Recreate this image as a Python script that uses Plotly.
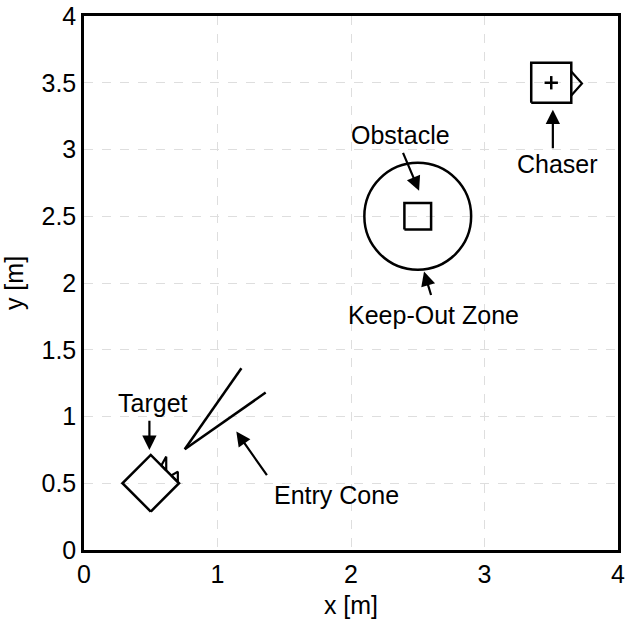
import numpy as np
import plotly.graph_objects as go

# --- scene values -------------------------------------------------------
x_ticks = [0, 1, 2, 3, 4]
y_ticks = [0, 0.5, 1, 1.5, 2, 2.5, 3, 3.5, 4]
y_tick_text = ["0", "0.5", "1", "1.5", "2", "2.5", "3", "3.5", "4"]

target_center = [0.5, 0.5]
target_side = 0.3
target_angle_deg = 45.0
# docking-port teeth on the target, body frame (x along the port face normal)
port_teeth = [
    [[0.15, 0.038], [0.223, 0.059], [0.15, -0.014]],
    [[0.15, -0.068], [0.205, -0.082], [0.15, -0.137]],
]

cone_offset = 0.36          # distance from target centre to cone apex
cone_length = 0.74
cone_half_angle_deg = 10.0

obstacle_center = [2.5, 2.5]
obstacle_side = 0.2
keep_out_radius = 0.4

chaser_center = [3.5, 3.5]
chaser_side = 0.3
chaser_cross_half = 0.05
chaser_port = [[0.15, 0.085], [0.23, -0.005], [0.15, -0.095]]

labels = ["Target", "Entry Cone", "Obstacle", "Keep-Out Zone", "Chaser"]
label_xy = [[0.52, 1.10], [1.89, 0.41], [2.37, 3.11], [2.62, 1.76], [3.55, 2.89]]
# arrow tail -> head
arrow_tail = [[0.49, 0.98], [1.378, 0.549], [2.385, 2.986], [2.603, 1.899], [3.512, 2.999]]
arrow_head = [[0.49, 0.75], [1.141, 0.887], [2.51, 2.691], [2.547, 2.086], [3.512, 3.298]]

BLACK = "#000000"
LW = 2.5
FONT = "Liberation Sans, Arial, Helvetica, sans-serif"
FS = 25


def rot(pts, ang_deg):
    a = np.radians(ang_deg)
    R = np.array([[np.cos(a), -np.sin(a)], [np.sin(a), np.cos(a)]])
    return (R @ np.asarray(pts, float).T).T


def square(side):
    h = side / 2
    return [[-h, -h], [h, -h], [h, h], [-h, h], [-h, -h]]


def closed_trace(pts, center, ang=0.0, width=LW):
    p = rot(pts, ang) + np.asarray(center)
    return go.Scatter(x=p[:, 0], y=p[:, 1], mode="lines",
                      line=dict(color=BLACK, width=width),
                      hoverinfo="skip", showlegend=False)


fig = go.Figure()

# target body and port teeth
fig.add_trace(closed_trace(square(target_side), target_center, target_angle_deg))
for tooth in port_teeth:
    fig.add_trace(closed_trace(tooth + [tooth[0]], target_center, target_angle_deg, 2.2))

# entry cone
ax_dir = np.radians(target_angle_deg)
apex = np.asarray(target_center) + cone_offset * np.array([np.cos(ax_dir), np.sin(ax_dir)])
cx, cy = [], []
for s in (+1, -1):
    a = ax_dir + s * np.radians(cone_half_angle_deg)
    end = apex + cone_length * np.array([np.cos(a), np.sin(a)])
    cx += [apex[0], end[0], None]
    cy += [apex[1], end[1], None]
fig.add_trace(go.Scatter(x=cx, y=cy, mode="lines", line=dict(color=BLACK, width=LW),
                         hoverinfo="skip", showlegend=False))

# obstacle and keep-out zone
fig.add_trace(closed_trace(square(obstacle_side), obstacle_center))
fig.add_shape(type="circle", xref="x", yref="y",
              x0=obstacle_center[0] - keep_out_radius, x1=obstacle_center[0] + keep_out_radius,
              y0=obstacle_center[1] - keep_out_radius, y1=obstacle_center[1] + keep_out_radius,
              line=dict(color=BLACK, width=LW))

# chaser
fig.add_trace(closed_trace(square(chaser_side), chaser_center))
fig.add_trace(closed_trace(chaser_port, chaser_center, 0.0, 2.2))
c = chaser_center
h = chaser_cross_half
fig.add_trace(go.Scatter(x=[c[0] - h, c[0] + h, None, c[0], c[0]],
                         y=[c[1], c[1], None, c[1] - h, c[1] + h],
                         mode="lines", line=dict(color=BLACK, width=LW),
                         hoverinfo="skip", showlegend=False))

# labels and arrows
for txt, (lx, ly) in zip(labels, label_xy):
    fig.add_annotation(x=lx, y=ly, xref="x", yref="y", text=txt, showarrow=False,
                       font=dict(family=FONT, size=FS, color=BLACK))
for (tx, ty), (hx, hy) in zip(arrow_tail, arrow_head):
    fig.add_annotation(x=hx, y=hy, ax=tx, ay=ty, xref="x", yref="y",
                       axref="x", ayref="y", text="", showarrow=True,
                       arrowhead=2, arrowsize=1.3, arrowwidth=2.2,
                       arrowcolor=BLACK, standoff=0, startstandoff=0)

axis_common = dict(range=[0, 4], showline=True, mirror=True, linecolor=BLACK,
                   linewidth=LW, ticks="", zeroline=False, showgrid=True,
                   gridcolor="#dedede", gridwidth=1, griddash="dash",
                   automargin=False, fixedrange=True,
                   tickfont=dict(family=FONT, size=FS, color=BLACK),
                   title_font=dict(family=FONT, size=FS, color=BLACK))

fig.update_xaxes(**axis_common, tickvals=x_ticks, ticktext=[str(v) for v in x_ticks],
                 title_text="x [m]", title_standoff=10)
fig.update_yaxes(**axis_common, tickvals=y_ticks, ticktext=y_tick_text,
                 title_text="y [m]", title_standoff=12)

fig.update_layout(template="none", width=626, height=627,
                  margin=dict(l=84, r=8, t=16, b=77, pad=0),
                  plot_bgcolor="white", paper_bgcolor="white",
                  font=dict(family=FONT, size=FS, color=BLACK))

fig.write_html("out.html")
